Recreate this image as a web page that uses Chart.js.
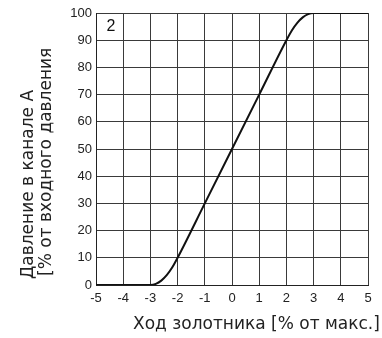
<!DOCTYPE html>
<html>
<head>
<meta charset="utf-8">
<script src="https://cdn.jsdelivr.net/npm/chart.js@4.4.1/dist/chart.umd.min.js"></script>
<style>
  body { margin: 0; background: #fff; }
  #wrap { position: relative; width: 382px; height: 338px; }
  .title { position: absolute; font-family: "DejaVu Sans", sans-serif; font-size: 17px; line-height: 20px; color: #222; white-space: nowrap; }
  .rot { transform-origin: 0 0; transform: rotate(-90deg); }
</style>
</head>
<body>
<div id="wrap">
  <canvas id="chart" width="382" height="338"></canvas>
  <span class="title" style="left:133px; top:313px;">Ход золотника [% от макс.]</span>
  <span class="title rot" style="left:17px; top:279px;">Давление в канале А</span>
  <span class="title rot" style="left:35px; top:276px;">[% от входного давления</span>
</div>
<script>
// spool stroke [% of max] and pressure in port A [% of inlet pressure]
const strokeX = [-5, -3, -2.8, -2.6, -2.4, -2.2, -2, -1, 0, 1, 2, 2.2, 2.4, 2.6, 2.8, 3, 5];
const pressureA = [0, 0, 0.4, 1.6, 3.6, 6.4, 10, 30, 50, 70, 90, 93.6, 96.4, 98.4, 99.6, 100, 100];

const xMin = -5, xMax = 5;
const yMin = 0, yMax = 100;
const curveLabel = '2';

// --- small label in the top-left cell ---
const cornerLabel = {
    id: 'cornerLabel',
    afterDatasetsDraw(chart) {
        const { ctx, scales } = chart;
        ctx.save();
        ctx.font = '16px "Liberation Sans", sans-serif';
        ctx.fillStyle = '#111';
        ctx.textAlign = 'center';
        ctx.textBaseline = 'middle';
        ctx.fillText(curveLabel, scales.x.getPixelForValue(-4.45), scales.y.getPixelForValue(95));
        ctx.restore();
    }
};

const tickFont = { family: '"Liberation Sans Narrow", "Liberation Sans", sans-serif', size: 13 };

new Chart(document.getElementById('chart').getContext('2d'), {
    type: 'line',
    data: {
        datasets: [{
            data: strokeX.map((x, i) => ({ x: x, y: pressureA[i] })),
            borderColor: '#111',
            borderWidth: 2,
            pointRadius: 0,
            cubicInterpolationMode: 'monotone',
            fill: false
        }]
    },
    options: {
        responsive: false,
        animation: false,
        layout: { padding: { top: 13, right: 14, left: 0, bottom: 0 } },
        plugins: { legend: { display: false }, tooltip: { enabled: false } },
        scales: {
            x: {
                type: 'linear',
                min: xMin,
                max: xMax,
                afterFit: (scale) => { scale.height = 53; },
                grid: { color: '#3a3a3a', lineWidth: 1, drawTicks: false },
                border: { color: '#222', width: 1 },
                ticks: { stepSize: 1, padding: 6, color: '#222', font: tickFont }
            },
            y: {
                min: yMin,
                max: yMax,
                afterFit: (scale) => { scale.width = 96; },
                grid: { color: '#3a3a3a', lineWidth: 1, drawTicks: false },
                border: { color: '#222', width: 1 },
                ticks: { stepSize: 10, padding: 4, color: '#222', font: tickFont }
            }
        }
    },
    plugins: [cornerLabel]
});
</script>
</body>
</html>
